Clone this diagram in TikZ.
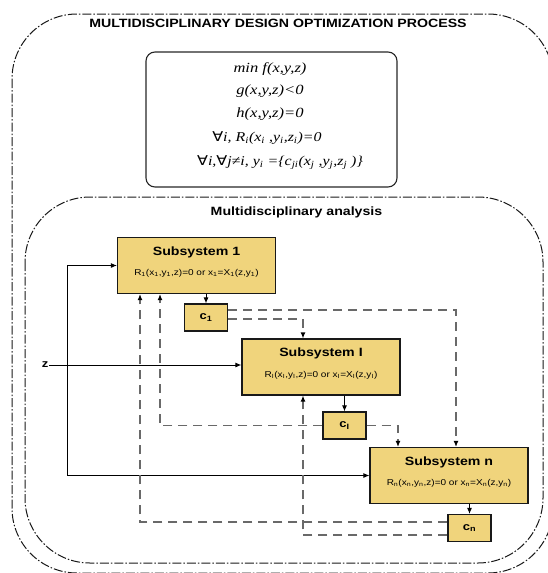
\documentclass[tikz,border=0pt]{standalone}
\usepackage{fontspec}
\usepackage{graphicx}
\setmainfont{Liberation Serif}
\newfontfamily\sansb{Liberation Sans}
\newfontfamily\symb{DejaVu Sans}
\usetikzlibrary{arrows.meta}
\definecolor{subfill}{RGB}{240,212,124}
\definecolor{linkgray}{RGB}{105,105,105}
% horizontally widened text
\newcommand{\widetxt}[1]{\scalebox{1.18}[1]{#1}}
\newcommand{\sub}[1]{\textsubscript{#1}}
\newcommand{\fa}{{\symb\upshape ∀}}

\begin{document}
\begin{tikzpicture}[x=1pt,y=-1pt,
  frame/.style={draw=black!90, line width=1pt,
    dash pattern=on 9pt off 2pt on 1.5pt off 2pt, rounded corners=65pt},
  formbox/.style={draw=black!85, line width=1.1pt, rounded corners=9pt,
    minimum width=251pt, minimum height=135pt, inner sep=0pt},
  formline/.style={font=\itshape\fontsize{14}{16}\selectfont, inner sep=0pt},
  formbig/.style={font=\itshape\fontsize{13.5}{16}\selectfont, inner sep=0pt},
  subbox/.style={draw=black!90, line width=1.1pt, fill=subfill,
    minimum width=158pt, minimum height=56pt, inner sep=0pt},
  cbox/.style={draw=black!90, line width=1.1pt, fill=subfill,
    minimum width=43pt, minimum height=27pt, inner sep=0pt,
    font=\sansb\bfseries\fontsize{11}{12}\selectfont},
  heading/.style={font=\sansb\bfseries\fontsize{12}{14}\selectfont, inner sep=0pt},
  eqtxt/.style={font=\sansb\fontsize{8.5}{10}\selectfont, inner sep=0pt},
  flow/.style={line width=1pt, -{Latex[length=6pt,width=5pt]}},
  link/.style={draw=linkgray, line width=1.3pt, dash pattern=on 9pt off 6pt,
    -{Latex[length=6pt,width=5pt,color=black]}},
]
\useasboundingbox (0,0) rectangle (547,573);

% enclosing process frames
\draw[frame] (12,14) rectangle (553,573);
\draw[frame] (25,197) rectangle (543,563);

\node[heading] (mdo) at (278,23)
  {\widetxt{MULTIDISCIPLINARY DESIGN OPTIMIZATION PROCESS}};
\node[heading] (mda) at (296.5,212) {\widetxt{Multidisciplinary analysis}};

% optimization problem
\node[formbox] (goal) at (271.5,119.5) {};
\node[formline] (f1) at (270,69) {\widetxt{min f(x,y,z)}};
\node[formline] (f2) at (270,91) {\widetxt{g(x,y,z)<0}};
\node[formline] (f3) at (270,114) {\widetxt{h(x,y,z)=0}};
\node[formbig] (f4) at (267,138)
  {\widetxt{\fa i, R\sub{i}(x\sub{i} ,y\sub{i},z\sub{i})=0}};
\node[formbig] (f5) at (280,163)
  {\widetxt{\fa i,\fa j≠i, y\sub{i} =\{c\sub{ji}(x\sub{j} ,y\sub{j},z\sub{j} )\}}};

% subsystems
\node[subbox] (S1) at (196.5,265.5) {};
\node[heading] (S1t) at ([yshift=-15pt]S1.north) {\widetxt{Subsystem 1}};
\node[eqtxt] (S1e) at ([yshift=-36pt]S1.north)
  {\widetxt{R\sub{1}(x\sub{1},y\sub{1},z)=0 or x\sub{1}=X\sub{1}(z,y\sub{1})}};

\node[subbox] (SI) at (321,367) {};
\node[heading] (SIt) at ([yshift=-15pt]SI.north) {\widetxt{Subsystem I}};
\node[eqtxt] (SIe) at ([yshift=-37pt]SI.north)
  {\widetxt{R\sub{I}(x\sub{I},y\sub{I},z)=0 or x\sub{I}=X\sub{I}(z,y\sub{I})}};

\node[subbox] (SN) at (449,475.5) {};
\node[heading] (SNt) at ([yshift=-15pt]SN.north) {\widetxt{Subsystem n}};
\node[eqtxt] (SNe) at ([yshift=-36pt]SN.north)
  {\widetxt{R\sub{n}(x\sub{n},y\sub{n},z)=0 or x\sub{n}=X\sub{n}(z,y\sub{n})}};

% coupling outputs
\node[cbox] (c1) at (206,317.5) {\widetxt{c\sub{1}}};
\node[cbox] (cI) at (344.5,425.5) {\widetxt{c\sub{I}}};
\node[cbox] (cn) at (469.5,528) {\widetxt{c\sub{n}}};

% shared design variables
\node[font=\sansb\bfseries\fontsize{11}{12}\selectfont, inner sep=1pt] (z) at (45,365) {\widetxt{z}};
\coordinate (bus) at (67,0);
\draw[line width=1pt] (bus |- S1.west) -- (bus |- SN.west);
\draw[flow] (bus |- S1.west) -- (S1.west);
\draw[flow] (bus |- SN.west) -- (SN.west);
\draw[flow] (z.east) -- (z.east -| SI.west);

% subsystem outputs
\draw[flow] (S1.south -| c1.north) -- (c1.north);
\draw[flow] (SI.south -| cI.north) -- (cI.north);
\draw[flow] (SN.south -| cn.north) -- (cn.north);

% coupling feedback
\draw[link] ([yshift=7.5pt]c1.east) -| ([xshift=7pt]SN.north);
\draw[link] ([yshift=-1.5pt]c1.east) -| ([xshift=-18pt]SI.north);
\draw[link] (cI.east) -| ([xshift=-51pt]SN.north);
\draw[link] (cI.west) -| ([xshift=-36.5pt]S1.south);
\draw[link] ([yshift=6pt]cn.west) -| ([xshift=-56.5pt]S1.south);
\draw[link] ([yshift=-7pt]cn.west) -| ([xshift=-18pt]SI.south);
\end{tikzpicture}
\end{document}
